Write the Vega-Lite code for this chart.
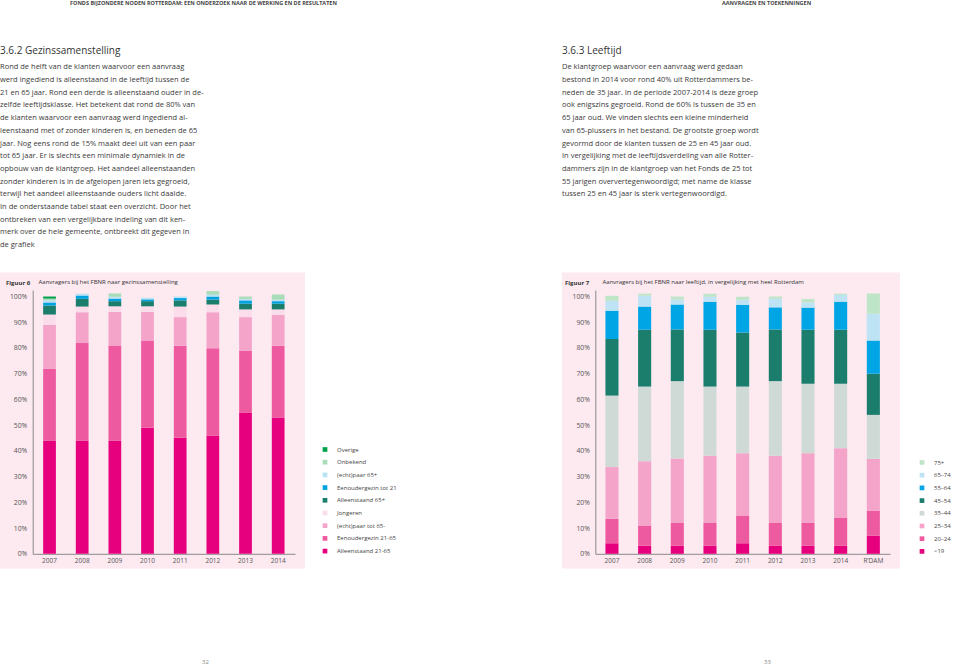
{
  "$schema": "https://vega.github.io/schema/vega-lite/v6.json",
  "padding": 0,
  "background": "white",
  "config": {
    "font": "Open Sans",
    "view": {"stroke": null},
    "axis": {"grid": false, "ticks": false, "domainColor": "#8a8a8a", "domainWidth": 1, "labelColor": "#555555", "labelFont": "Open Sans"},
    "legend": {"title": null}
  },
  "resolve": {"scale": {"color": "independent", "x": "independent", "y": "independent"}, "legend": {"color": "independent"}},
  "datasets": {
    "tekstL": [
      {"regel": 1, "tekst": "Rond de helft van de klanten waarvoor een aanvraag"},
      {"regel": 2, "tekst": "werd ingediend is alleenstaand in de leeftijd tussen de"},
      {"regel": 3, "tekst": "21 en 65 jaar. Rond een derde is alleenstaand ouder in de-"},
      {"regel": 4, "tekst": "zelfde leeftijdsklasse. Het betekent dat rond de 80% van"},
      {"regel": 5, "tekst": "de klanten waarvoor een aanvraag werd ingediend al-"},
      {"regel": 6, "tekst": "leenstaand met of zonder kinderen is, en beneden de 65"},
      {"regel": 7, "tekst": "jaar. Nog eens rond de 15% maakt deel uit van een paar"},
      {"regel": 8, "tekst": "tot 65 jaar. Er is slechts een minimale dynamiek in de"},
      {"regel": 9, "tekst": "opbouw van de klantgroep. Het aandeel alleenstaanden"},
      {"regel": 10, "tekst": "zonder kinderen is in de afgelopen jaren iets gegroeid,"},
      {"regel": 11, "tekst": "terwijl het aandeel alleenstaande ouders licht daalde."},
      {"regel": 12, "tekst": "In de onderstaande tabel staat een overzicht. Door het"},
      {"regel": 13, "tekst": "ontbreken van een vergelijkbare indeling van dit ken-"},
      {"regel": 14, "tekst": "merk over de hele gemeente, ontbreekt dit gegeven in"},
      {"regel": 15, "tekst": "de grafiek"}
    ],
    "tekstR": [
      {"regel": 1, "tekst": "De klantgroep waarvoor een aanvraag werd gedaan"},
      {"regel": 2, "tekst": "bestond in 2014 voor rond 40% uit Rotterdammers be-"},
      {"regel": 3, "tekst": "neden de 35 jaar. In de periode 2007-2014 is deze groep"},
      {"regel": 4, "tekst": "ook enigszins gegroeid. Rond de 60% is tussen de 35 en"},
      {"regel": 5, "tekst": "65 jaar oud. We vinden slechts een kleine minderheid"},
      {"regel": 6, "tekst": "van 65-plussers in het bestand. De grootste groep wordt"},
      {"regel": 7, "tekst": "gevormd door de klanten tussen de 25 en 45 jaar oud."},
      {"regel": 8, "tekst": "In vergelijking met de leeftijdsverdeling van alle Rotter-"},
      {"regel": 9, "tekst": "dammers zijn in de klantgroep van het Fonds de 25 tot"},
      {"regel": 10, "tekst": "55 jarigen oververtegenwoordigd; met name de klasse"},
      {"regel": 11, "tekst": "tussen 25 en 45 jaar is sterk vertegenwoordigd."}
    ],
    "fig6": [
      {"jaar": "2007", "groep": "Alleenstaand 21-65", "pct": 44.0},
      {"jaar": "2007", "groep": "Eenoudergezin 21-65", "pct": 27.9},
      {"jaar": "2007", "groep": "(echt)paar tot 65-", "pct": 17.1},
      {"jaar": "2007", "groep": "Jongeren", "pct": 4.0},
      {"jaar": "2007", "groep": "Alleenstaand 65+", "pct": 3.5},
      {"jaar": "2007", "groep": "Eenoudergezin tot 21", "pct": 1.2},
      {"jaar": "2007", "groep": "(echt)paar 65+", "pct": 0.9},
      {"jaar": "2007", "groep": "Onbekend", "pct": 0.6},
      {"jaar": "2007", "groep": "Overige", "pct": 0.8},
      {"jaar": "2008", "groep": "Alleenstaand 21-65", "pct": 44.0},
      {"jaar": "2008", "groep": "Eenoudergezin 21-65", "pct": 37.9},
      {"jaar": "2008", "groep": "(echt)paar tot 65-", "pct": 12.0},
      {"jaar": "2008", "groep": "Jongeren", "pct": 2.2},
      {"jaar": "2008", "groep": "Alleenstaand 65+", "pct": 3.0},
      {"jaar": "2008", "groep": "Eenoudergezin tot 21", "pct": 1.3},
      {"jaar": "2008", "groep": "(echt)paar 65+", "pct": 0.7},
      {"jaar": "2009", "groep": "Alleenstaand 21-65", "pct": 44.0},
      {"jaar": "2009", "groep": "Eenoudergezin 21-65", "pct": 37.0},
      {"jaar": "2009", "groep": "(echt)paar tot 65-", "pct": 13.0},
      {"jaar": "2009", "groep": "Jongeren", "pct": 2.2},
      {"jaar": "2009", "groep": "Alleenstaand 65+", "pct": 2.0},
      {"jaar": "2009", "groep": "Eenoudergezin tot 21", "pct": 1.0},
      {"jaar": "2009", "groep": "(echt)paar 65+", "pct": 0.7},
      {"jaar": "2009", "groep": "Onbekend", "pct": 1.3},
      {"jaar": "2010", "groep": "Alleenstaand 21-65", "pct": 49.0},
      {"jaar": "2010", "groep": "Eenoudergezin 21-65", "pct": 33.9},
      {"jaar": "2010", "groep": "(echt)paar tot 65-", "pct": 11.1},
      {"jaar": "2010", "groep": "Jongeren", "pct": 2.2},
      {"jaar": "2010", "groep": "Alleenstaand 65+", "pct": 2.0},
      {"jaar": "2010", "groep": "Eenoudergezin tot 21", "pct": 0.7},
      {"jaar": "2010", "groep": "(echt)paar 65+", "pct": 0.6},
      {"jaar": "2011", "groep": "Alleenstaand 21-65", "pct": 45.1},
      {"jaar": "2011", "groep": "Eenoudergezin 21-65", "pct": 35.8},
      {"jaar": "2011", "groep": "(echt)paar tot 65-", "pct": 11.1},
      {"jaar": "2011", "groep": "Jongeren", "pct": 4.1},
      {"jaar": "2011", "groep": "Alleenstaand 65+", "pct": 2.4},
      {"jaar": "2011", "groep": "Eenoudergezin tot 21", "pct": 0.9},
      {"jaar": "2011", "groep": "(echt)paar 65+", "pct": 0.6},
      {"jaar": "2012", "groep": "Alleenstaand 21-65", "pct": 46.0},
      {"jaar": "2012", "groep": "Eenoudergezin 21-65", "pct": 33.9},
      {"jaar": "2012", "groep": "(echt)paar tot 65-", "pct": 14.0},
      {"jaar": "2012", "groep": "Jongeren", "pct": 3.0},
      {"jaar": "2012", "groep": "Alleenstaand 65+", "pct": 1.9},
      {"jaar": "2012", "groep": "Eenoudergezin tot 21", "pct": 1.2},
      {"jaar": "2012", "groep": "(echt)paar 65+", "pct": 0.7},
      {"jaar": "2012", "groep": "Onbekend", "pct": 1.4},
      {"jaar": "2013", "groep": "Alleenstaand 21-65", "pct": 54.9},
      {"jaar": "2013", "groep": "Eenoudergezin 21-65", "pct": 24.1},
      {"jaar": "2013", "groep": "(echt)paar tot 65-", "pct": 13.0},
      {"jaar": "2013", "groep": "Jongeren", "pct": 3.0},
      {"jaar": "2013", "groep": "Alleenstaand 65+", "pct": 2.2},
      {"jaar": "2013", "groep": "Eenoudergezin tot 21", "pct": 1.3},
      {"jaar": "2013", "groep": "(echt)paar 65+", "pct": 0.6},
      {"jaar": "2013", "groep": "Onbekend", "pct": 0.9},
      {"jaar": "2014", "groep": "Alleenstaand 21-65", "pct": 53.0},
      {"jaar": "2014", "groep": "Eenoudergezin 21-65", "pct": 27.9},
      {"jaar": "2014", "groep": "(echt)paar tot 65-", "pct": 12.0},
      {"jaar": "2014", "groep": "Jongeren", "pct": 2.1},
      {"jaar": "2014", "groep": "Alleenstaand 65+", "pct": 2.2},
      {"jaar": "2014", "groep": "Eenoudergezin tot 21", "pct": 1.0},
      {"jaar": "2014", "groep": "(echt)paar 65+", "pct": 0.6},
      {"jaar": "2014", "groep": "Onbekend", "pct": 2.0}
    ],
    "fig7": [
      {"jaar": "2007", "leeftijd": "<19", "pct": 4.1},
      {"jaar": "2007", "leeftijd": "20–24", "pct": 9.5},
      {"jaar": "2007", "leeftijd": "25–34", "pct": 20.1},
      {"jaar": "2007", "leeftijd": "35–44", "pct": 27.8},
      {"jaar": "2007", "leeftijd": "45–54", "pct": 22.0},
      {"jaar": "2007", "leeftijd": "55–64", "pct": 11.0},
      {"jaar": "2007", "leeftijd": "65–74", "pct": 3.8},
      {"jaar": "2007", "leeftijd": "75+", "pct": 2.0},
      {"jaar": "2008", "leeftijd": "<19", "pct": 3.1},
      {"jaar": "2008", "leeftijd": "20–24", "pct": 7.9},
      {"jaar": "2008", "leeftijd": "25–34", "pct": 25.0},
      {"jaar": "2008", "leeftijd": "35–44", "pct": 29.0},
      {"jaar": "2008", "leeftijd": "45–54", "pct": 22.1},
      {"jaar": "2008", "leeftijd": "55–64", "pct": 9.0},
      {"jaar": "2008", "leeftijd": "65–74", "pct": 4.2},
      {"jaar": "2008", "leeftijd": "75+", "pct": 0.8},
      {"jaar": "2009", "leeftijd": "<19", "pct": 3.1},
      {"jaar": "2009", "leeftijd": "20–24", "pct": 8.9},
      {"jaar": "2009", "leeftijd": "25–34", "pct": 25.0},
      {"jaar": "2009", "leeftijd": "35–44", "pct": 30.1},
      {"jaar": "2009", "leeftijd": "45–54", "pct": 20.1},
      {"jaar": "2009", "leeftijd": "55–64", "pct": 9.7},
      {"jaar": "2009", "leeftijd": "65–74", "pct": 1.9},
      {"jaar": "2009", "leeftijd": "75+", "pct": 1.2},
      {"jaar": "2010", "leeftijd": "<19", "pct": 3.1},
      {"jaar": "2010", "leeftijd": "20–24", "pct": 8.9},
      {"jaar": "2010", "leeftijd": "25–34", "pct": 26.1},
      {"jaar": "2010", "leeftijd": "35–44", "pct": 26.9},
      {"jaar": "2010", "leeftijd": "45–54", "pct": 22.1},
      {"jaar": "2010", "leeftijd": "55–64", "pct": 10.9},
      {"jaar": "2010", "leeftijd": "65–74", "pct": 1.9},
      {"jaar": "2010", "leeftijd": "75+", "pct": 1.2},
      {"jaar": "2011", "leeftijd": "<19", "pct": 4.1},
      {"jaar": "2011", "leeftijd": "20–24", "pct": 10.8},
      {"jaar": "2011", "leeftijd": "25–34", "pct": 24.2},
      {"jaar": "2011", "leeftijd": "35–44", "pct": 25.9},
      {"jaar": "2011", "leeftijd": "45–54", "pct": 21.0},
      {"jaar": "2011", "leeftijd": "55–64", "pct": 10.8},
      {"jaar": "2011", "leeftijd": "65–74", "pct": 1.9},
      {"jaar": "2011", "leeftijd": "75+", "pct": 1.2},
      {"jaar": "2012", "leeftijd": "<19", "pct": 3.1},
      {"jaar": "2012", "leeftijd": "20–24", "pct": 8.9},
      {"jaar": "2012", "leeftijd": "25–34", "pct": 26.1},
      {"jaar": "2012", "leeftijd": "35–44", "pct": 29.0},
      {"jaar": "2012", "leeftijd": "45–54", "pct": 20.1},
      {"jaar": "2012", "leeftijd": "55–64", "pct": 8.6},
      {"jaar": "2012", "leeftijd": "65–74", "pct": 3.3},
      {"jaar": "2012", "leeftijd": "75+", "pct": 0.9},
      {"jaar": "2013", "leeftijd": "<19", "pct": 3.1},
      {"jaar": "2013", "leeftijd": "20–24", "pct": 8.9},
      {"jaar": "2013", "leeftijd": "25–34", "pct": 27.1},
      {"jaar": "2013", "leeftijd": "35–44", "pct": 27.0},
      {"jaar": "2013", "leeftijd": "45–54", "pct": 21.0},
      {"jaar": "2013", "leeftijd": "55–64", "pct": 8.6},
      {"jaar": "2013", "leeftijd": "65–74", "pct": 2.0},
      {"jaar": "2013", "leeftijd": "75+", "pct": 1.3},
      {"jaar": "2014", "leeftijd": "<19", "pct": 3.1},
      {"jaar": "2014", "leeftijd": "20–24", "pct": 11.0},
      {"jaar": "2014", "leeftijd": "25–34", "pct": 26.9},
      {"jaar": "2014", "leeftijd": "35–44", "pct": 25.1},
      {"jaar": "2014", "leeftijd": "45–54", "pct": 21.0},
      {"jaar": "2014", "leeftijd": "55–64", "pct": 10.9},
      {"jaar": "2014", "leeftijd": "65–74", "pct": 2.6},
      {"jaar": "2014", "leeftijd": "75+", "pct": 0.5},
      {"jaar": "R’DAM", "leeftijd": "<19", "pct": 7.1},
      {"jaar": "R’DAM", "leeftijd": "20–24", "pct": 9.7},
      {"jaar": "R’DAM", "leeftijd": "25–34", "pct": 20.1},
      {"jaar": "R’DAM", "leeftijd": "35–44", "pct": 17.1},
      {"jaar": "R’DAM", "leeftijd": "45–54", "pct": 16.0},
      {"jaar": "R’DAM", "leeftijd": "55–64", "pct": 12.9},
      {"jaar": "R’DAM", "leeftijd": "65–74", "pct": 10.4},
      {"jaar": "R’DAM", "leeftijd": "75+", "pct": 7.9}
    ]
  },
  "spacing": 165,
  "hconcat": [
    {
      "title": {"text": "FONDS BIJZONDERE NODEN ROTTERDAM: EEN ONDERZOEK NAAR DE WERKING EN DE RESULTATEN", "fontSize": 5.5, "fontWeight": "bold", "color": "#444444", "anchor": "start", "dx": 70, "offset": 40},
      "spacing": 20.5,
      "resolve": {"scale": {"color": "independent", "x": "independent", "y": "independent"}, "legend": {"color": "independent"}},
      "vconcat": [
        {
          "width": 197,
          "height": {"step": 12.7},
          "title": {"text": "3.6.2 Gezinssamenstelling", "anchor": "start", "fontSize": 10, "fontWeight": "normal", "color": "#333333", "offset": 5},
          "data": {"name": "tekstL"},
          "mark": {"type": "text", "align": "left", "baseline": "middle", "fontSize": 7.5, "color": "#3a3a3a"},
          "encoding": {
            "y": {"field": "regel", "type": "ordinal", "axis": null, "scale": {"domain": [1,2,3,4,5,6,7,8,9,10,11,12,13,14,15]}},
            "x": {"datum": 0, "type": "quantitative", "scale": {"domain": [0, 1]}, "axis": null},
            "text": {"field": "tekst"}
          }
        },
        {
          "width": 305,
          "height": 296,
          "view": {"fill": "#fde9f0"},
          "title": {"text": "Figuur 6", "anchor": "start", "fontSize": 6, "fontWeight": "bold", "color": "#333333", "offset": -13, "dx": 6},
          "data": {"name": "fig6"},
          "mark": {"type": "bar"},
          "encoding": {
            "x": {
              "field": "jaar", "type": "ordinal",
              "scale": {"range": [32.7, 295], "paddingInner": 0.61, "paddingOuter": 0.32},
              "axis": {"orient": "bottom", "offset": -14.7, "labelAngle": 0, "labelFontSize": 6.5, "labelPadding": 4,
                       "title": "32", "titleX": 205, "titleY": 108, "titleFontSize": 6, "titleFontWeight": "normal", "titleColor": "#888888", "titleBaseline": "middle"}
            },
            "y": {
              "field": "pct", "type": "quantitative", "stack": "zero",
              "scale": {"domain": [0, 102.5], "range": [281.3, 17.6], "nice": false},
              "axis": {"orient": "left", "offset": -32.7, "values": [0,10,20,30,40,50,60,70,80,90,100], "labelExpr": "datum.value + '%'",
                       "labelFontSize": 6.8, "labelPadding": 6,
                       "title": "Aanvragers bij het FBNR naar gezinssamenstelling", "titleAngle": 0, "titleX": 5.3, "titleY": 11,
                       "titleAlign": "left", "titleBaseline": "alphabetic", "titleFontSize": 6, "titleFontWeight": "normal", "titleColor": "#333333"}
            },
            "order": {"field": "jaar", "type": "ordinal"},
            "color": {
              "field": "groep", "type": "nominal",
              "sort": ["Overige", "Onbekend", "(echt)paar 65+", "Eenoudergezin tot 21", "Alleenstaand 65+", "Jongeren", "(echt)paar tot 65-", "Eenoudergezin 21-65", "Alleenstaand 21-65"],
              "scale": {
                "domain": ["Overige", "Onbekend", "(echt)paar 65+", "Eenoudergezin tot 21", "Alleenstaand 65+", "Jongeren", "(echt)paar tot 65-", "Eenoudergezin 21-65", "Alleenstaand 21-65"],
                "range": ["#00a14b", "#a9dcb9", "#b9e3f3", "#00a3e0", "#1b7e6d", "#fbdcea", "#f4a3c9", "#ee5a9f", "#e6007e"]
              },
              "legend": {"orient": "none", "legendX": 322, "legendY": 174, "symbolType": "square", "symbolSize": 22, "symbolStrokeWidth": 0,
                         "labelFontSize": 6, "labelColor": "#444444", "labelOffset": 9, "rowPadding": 6.7}
            }
          }
        }
      ]
    },
    {
      "title": {"text": "AANVRAGEN EN TOEKENNINGEN", "fontSize": 5.5, "fontWeight": "bold", "color": "#444444", "anchor": "start", "dx": 160, "offset": 40},
      "spacing": 20.5,
      "resolve": {"scale": {"color": "independent", "x": "independent", "y": "independent"}, "legend": {"color": "independent"}},
      "vconcat": [
        {
          "width": 198,
          "height": {"step": 12.7},
          "title": {"text": "3.6.3 Leeftijd", "anchor": "start", "fontSize": 10, "fontWeight": "normal", "color": "#333333", "offset": 5},
          "data": {"name": "tekstR"},
          "mark": {"type": "text", "align": "left", "baseline": "middle", "fontSize": 7.5, "color": "#3a3a3a"},
          "encoding": {
            "y": {"field": "regel", "type": "ordinal", "axis": null, "scale": {"domain": [1,2,3,4,5,6,7,8,9,10,11,12,13,14,15]}},
            "x": {"datum": 0, "type": "quantitative", "scale": {"domain": [0, 1]}, "axis": null},
            "text": {"field": "tekst"}
          }
        },
        {
          "width": 338,
          "height": 296,
          "view": {"fill": "#fde9f0"},
          "title": {"text": "Figuur 7", "anchor": "start", "fontSize": 6, "fontWeight": "bold", "color": "#333333", "offset": -13, "dx": 3},
          "data": {"name": "fig7"},
          "mark": {"type": "bar"},
          "encoding": {
            "x": {
              "field": "jaar", "type": "ordinal", "sort": ["2007", "2008", "2009", "2010", "2011", "2012", "2013", "2014", "R’DAM"],
              "scale": {"range": [33.3, 328], "paddingInner": 0.6, "paddingOuter": 0.31},
              "axis": {"orient": "bottom", "offset": -14.7, "labelAngle": 0, "labelFontSize": 6.5, "labelPadding": 4,
                       "title": "33", "titleX": 205, "titleY": 108, "titleFontSize": 6, "titleFontWeight": "normal", "titleColor": "#888888", "titleBaseline": "middle"}
            },
            "y": {
              "field": "pct", "type": "quantitative", "stack": "zero",
              "scale": {"domain": [0, 102.5], "range": [281.3, 17.6], "nice": false},
              "axis": {"orient": "left", "offset": -33.3, "values": [0,10,20,30,40,50,60,70,80,90,100], "labelExpr": "datum.value + '%'",
                       "labelFontSize": 6.8, "labelPadding": 6,
                       "title": "Aanvragers bij het FBNR naar leeftijd, in vergelijking met heel Rotterdam", "titleAngle": 0, "titleX": 6.7, "titleY": 11,
                       "titleAlign": "left", "titleBaseline": "alphabetic", "titleFontSize": 6, "titleFontWeight": "normal", "titleColor": "#333333"}
            },
            "order": {"field": "jaar", "type": "ordinal"},
            "color": {
              "field": "leeftijd", "type": "nominal",
              "sort": ["75+", "65–74", "55–64", "45–54", "35–44", "25–34", "20–24", "<19"],
              "scale": {
                "domain": ["75+", "65–74", "55–64", "45–54", "35–44", "25–34", "20–24", "<19"],
                "range": ["#bfe5c9", "#bde3f4", "#00a5e5", "#1b7e6d", "#cfdad7", "#f4a3c9", "#ee5a9f", "#e6007e"]
              },
              "legend": {"orient": "none", "legendX": 357, "legendY": 187, "symbolType": "square", "symbolSize": 22, "symbolStrokeWidth": 0,
                         "labelFontSize": 6, "labelColor": "#444444", "labelOffset": 9, "rowPadding": 6.7}
            }
          }
        }
      ]
    }
  ]
}
